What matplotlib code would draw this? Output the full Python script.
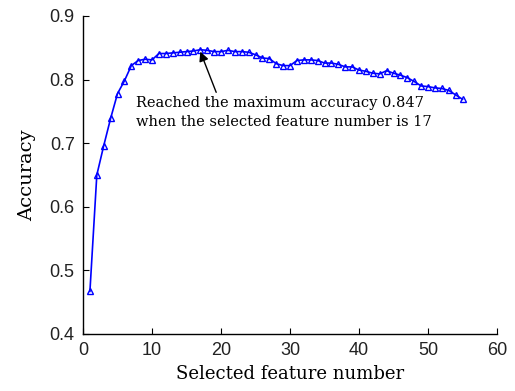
import matplotlib
matplotlib.use("Agg")
import matplotlib.pyplot as plt
import numpy as np

# selected feature number vs. accuracy
n_features = list(range(1, 56))
accuracy = [
    0.467, 0.650, 0.696, 0.739, 0.778, 0.798, 0.822, 0.830, 0.832, 0.831,
    0.841, 0.841, 0.842, 0.843, 0.844, 0.845, 0.847, 0.846, 0.844, 0.844,
    0.846, 0.844, 0.844, 0.843, 0.839, 0.834, 0.833, 0.825, 0.822, 0.822,
    0.830, 0.831, 0.831, 0.830, 0.826, 0.826, 0.824, 0.820, 0.820, 0.815,
    0.813, 0.810, 0.809, 0.814, 0.810, 0.807, 0.803, 0.797, 0.790, 0.789,
    0.787, 0.786, 0.783, 0.776, 0.769,
]
x_ticks = [0, 10, 20, 30, 40, 50, 60]
y_ticks = [0.4, 0.5, 0.6, 0.7, 0.8, 0.9]
best_n = 17
best_acc = 0.847

fig = plt.figure(figsize=(5.15, 3.91), dpi=100)
ax = fig.add_axes([0.1612, 0.1458, 0.8039, 0.8133])

ax.plot(n_features, accuracy, color="#0000ff", linewidth=1.2,
        marker="^", markersize=4, markerfacecolor="none",
        markeredgecolor="#0000ff", markeredgewidth=1.0)

# arrow from below the text up to the maximum point
ax.annotate("", xy=(best_n, best_acc - 0.003), xytext=(19.3, 0.780),
            arrowprops=dict(arrowstyle="-|>", color="black", lw=1.0,
                            mutation_scale=14, shrinkA=0, shrinkB=0))
ax.text(7.7, 0.774,
        f"Reached the maximum accuracy {best_acc}\n"
        f"when the selected feature number is {best_n}",
        fontsize=10.5, family="DejaVu Serif", linespacing=1.45,
        ha="left", va="top")

ax.set_xlim(0, 60)
ax.set_ylim(0.4, 0.9)
ax.set_xticks(x_ticks)
ax.set_yticks(y_ticks)
ax.set_yticklabels([f"{v:.1f}" for v in y_ticks])
ax.tick_params(direction="in", length=4, width=0.8, labelsize=13, pad=6)
for lab in ax.get_xticklabels() + ax.get_yticklabels():
    lab.set_family("Liberation Sans")
    lab.set_color("#222222")

for side in ("top", "right"):
    ax.spines[side].set_visible(False)
for side in ("left", "bottom"):
    ax.spines[side].set_linewidth(1.0)

ax.set_xlabel("Selected feature number", fontsize=13, family="DejaVu Serif", labelpad=4)
ax.set_ylabel("Accuracy", fontsize=14, family="DejaVu Serif", labelpad=10)

fig.savefig("out.png", dpi=100)
